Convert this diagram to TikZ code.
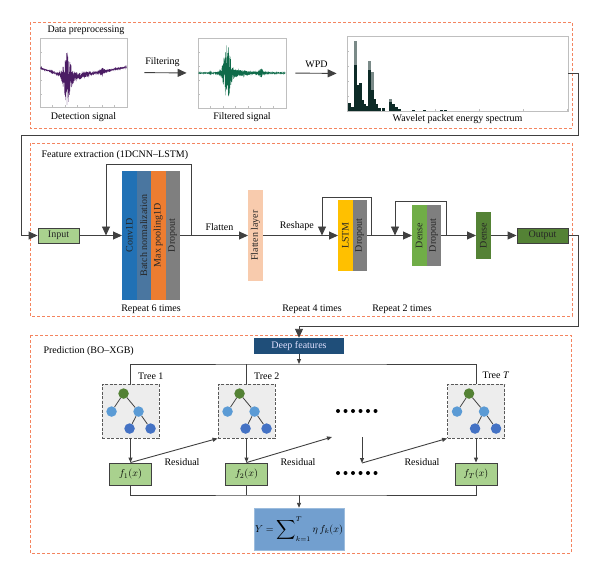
\documentclass[tikz,border=0pt]{standalone}
\usepackage{fontspec}
\setmainfont{Liberation Serif}
\usetikzlibrary{arrows.meta,positioning}
\definecolor{panelorange}{HTML}{F4845F}
\definecolor{linegray}{HTML}{404040}
\definecolor{inputgreen}{HTML}{A9D18E}
\definecolor{darkgreen}{HTML}{548235}
\definecolor{midgreen}{HTML}{70AD47}
\definecolor{convblue}{HTML}{2171B5}
\definecolor{bnblue}{HTML}{4A76A0}
\definecolor{poolorange}{HTML}{ED7D31}
\definecolor{dropgray}{HTML}{7F7F7F}
\definecolor{flatpeach}{HTML}{F8CBAD}
\definecolor{lstmyellow}{HTML}{FFC000}
\definecolor{deepblue}{HTML}{1F4E79}
\definecolor{sumblue}{HTML}{729FCF}
\definecolor{treegray}{HTML}{EDEDED}
\definecolor{leafblue}{HTML}{5B9BD5}
\definecolor{deepleaf}{HTML}{4472C4}
\definecolor{detpurple}{HTML}{4B1C64}
\definecolor{filgreen}{HTML}{0F6B4A}
\definecolor{bardark}{HTML}{0D2B27}
\definecolor{bargray}{HTML}{7A8A88}
\begin{document}
\begin{tikzpicture}[x=1pt,y=-1pt,font=\fontsize{10}{12}\selectfont,
    declare function={bump(\t,\c,\w)=exp(-(\t-\c)*(\t-\c)/(\w*\w));},
    panel/.style={draw=panelorange,dash pattern=on 3pt off 2pt,line width=0.9pt},
    link/.style={draw=linegray,line width=0.9pt},
    bigtip/.style={link,-{Triangle[length=9pt,width=8pt]}},
    smalltip/.style={link,-{Triangle[length=5pt,width=4pt]}},
    imgframe/.style={draw=black!25,line width=0.8pt,inner sep=0pt},
    strip/.style={inner sep=0pt,outer sep=0pt,minimum width=14.5pt,text=black!85},
    flatbox/.style={draw=linegray,line width=0.9pt,inner sep=0pt,minimum height=15pt,text=black!85},
    treebox/.style={draw=black!65,dash pattern=on 3pt off 1.5pt,line width=0.9pt,fill=treegray,
        minimum width=57pt,minimum height=54pt,inner sep=0pt},
    leaf/.style={circle,inner sep=0pt,minimum size=10.5pt},
    fnbox/.style={draw=linegray,line width=0.9pt,fill=inputgreen,minimum width=42pt,
        minimum height=22pt,inner sep=0pt}]
\useasboundingbox (0,0) rectangle (600,574);

% panels
\draw[panel] (30,22) rectangle (572,128);
\draw[panel] (30,143) rectangle (572,316);
\draw[panel] (30,335) rectangle (571,553);
\node[anchor=west] at (44,30) {Data preprocessing};
\node[anchor=west] at (38,155) {Feature extraction (1DCNN--LSTM)};
\node[anchor=west] at (40,351) {Prediction (BO--XGB)};

% data preprocessing
\node[imgframe,minimum width=87pt,minimum height=69pt] (detect) at (83.5,72.5) {};
\node[imgframe,minimum width=88pt,minimum height=70pt] (filtered) at (242,73) {};
\node[imgframe,minimum width=221pt,minimum height=75pt] (spectrum) at (457.5,73.5) {};
\node[below=2pt of detect] {Detection signal};
\node[below=1pt of filtered] {Filtered signal};
\node[below=0pt of spectrum] {Wavelet packet energy spectrum};
\foreach \i in {1,...,6} {
  \draw[black!25] (40+12.4*\i,107) -- ++(0,-2);
  \draw[black!25] (198+12.5*\i,108) -- ++(0,-2);
}
\foreach \i in {1,...,4} {
  \draw[black!25] (40,38+14*\i) -- ++(2,0);
  \draw[black!25] (198,38+14*\i) -- ++(2,0);
  \draw[black!25] (347,36+15*\i) -- ++(2,0);
}
\foreach \i in {1,...,5} {
  \draw[black!25] (347+44*\i,111) -- ++(0,-2);
}
\pgfmathsetseed{42}
\draw[domain=40.5:126.5, samples=1000, variable=\x, detpurple, line width=0.35pt]
  plot ({\x}, {(\x<67)*(68+(\x-40)/3)+(1-(\x<67))*(78-(\x-67)*0.183)
  +(19*bump(\x,67,3.5)+8*bump(\x,68,7)+3*bump(\x,82,9)+3.5*bump(\x,102,3)+1.5*bump(\x,52,1.2)+0.5)*rand});
\draw[domain=198.5:285.5, samples=1000, variable=\x, filgreen, line width=0.35pt]
  plot ({\x}, {73+(20*bump(\x,227,3.5)+8*bump(\x,228,7)+2.5*bump(\x,243,9)+4*bump(\x,261,3)+2*bump(\x,210,1.2)+0.4)*rand});
\foreach \bx/\by in {354/41, 368/61, 371/72, 389/99}
  \fill[bargray] (\bx,110.5) rectangle (\bx+3,\by);
\foreach \bx/\by in {348/103, 351/107, 354/65, 357/85, 359/83, 361/100, 363/104, 365/106,
    368/70, 371/90, 373/99, 375/104, 378/108, 382/108, 389/102, 392/104, 395/107,
    398/109, 412/110, 423/110, 440/109.5, 444/110}
  \fill[bardark] (\bx,110.5) rectangle (\bx+2.5,\by);
\draw[bigtip,shorten <=17pt,shorten >=11pt] (detect.east) -- (filtered.west)
  node[midway,above=2pt] {Filtering};
\draw[bigtip,shorten <=9pt,shorten >=10pt] (filtered.east) -- (spectrum.west)
  node[midway,above=2pt] {WPD};

% feature extraction
\node[flatbox,fill=inputgreen,minimum width=41pt] (input) at (58.5,235.5) {Input};
\node[strip,fill=convblue,minimum height=129pt] (conv) at (129.25,235.5) {\rotatebox{90}{Conv1D}};
\node[strip,fill=bnblue,minimum height=129pt,right=0pt of conv] (bn) {\rotatebox{90}{Batch normalization}};
\node[strip,fill=poolorange,minimum height=129pt,right=0pt of bn] (pool) {\rotatebox{90}{Max pooling1D}};
\node[strip,fill=dropgray,minimum height=129pt,right=0pt of pool] (drop1) {\rotatebox{90}{Dropout}};
\node[strip,fill=flatpeach,minimum width=15pt,minimum height=91pt] (flat) at (255.5,235.5) {\rotatebox{90}{Flatten layer}};
\node[strip,fill=lstmyellow,minimum height=71pt] (lstm) at (345.25,235.5) {\rotatebox{90}{LSTM}};
\node[strip,fill=dropgray,minimum height=71pt,right=0pt of lstm] (drop2) {\rotatebox{90}{Dropout}};
\node[strip,fill=midgreen,minimum height=61pt] (dense1) at (419.25,235.5) {\rotatebox{90}{Dense}};
\node[strip,fill=dropgray,minimum height=61pt,right=0pt of dense1] (drop3) {\rotatebox{90}{Dropout}};
\node[strip,fill=darkgreen,minimum width=15pt,minimum height=47pt] (dense2) at (483.5,235.5) {\rotatebox{90}{Dense}};
\node[flatbox,fill=darkgreen,minimum width=51pt] (output) at (542.5,235.5) {Output};
\node at (151,309) {Repeat 6 times};
\node at (312,309) {Repeat 4 times};
\node at (402,309) {Repeat 2 times};

\coordinate (rep1out) at (191,235.5);
\coordinate (rep1in) at (106,235.5);
\coordinate (rep2out) at (371,235.5);
\coordinate (rep2in) at (322,235.5);
\coordinate (rep3out) at (446,235.5);
\coordinate (rep3in) at (395,235.5);

\draw[bigtip] (spectrum.east) -| (578,135) -| (21,235.5) -- (input.west);
\draw[bigtip] (input.east) -- (conv.west);
\draw[link] (drop1.east) -- (rep1out);
\draw[bigtip] (rep1out) -- ++(0,-71.5) -| (rep1in);
\draw[bigtip] (rep1out) -- (flat.west) node[midway,above=1pt] {Flatten};
\draw[bigtip] (flat.east) -- (lstm.west) node[pos=0.45,above=1pt] {Reshape};
\draw[link] (drop2.east) -- (rep2out);
\draw[bigtip] (rep2out) -- ++(0,-38.5) -| (rep2in);
\draw[bigtip] (rep2out) -- (dense1.west);
\draw[link] (drop3.east) -- (rep3out);
\draw[bigtip] (rep3out) -- ++(0,-34.5) -| (rep3in);
\draw[bigtip] (rep3out) -- (dense2.west);
\draw[bigtip] (dense2.east) -- (output.west);

% prediction
\node[fill=deepblue,text=white!88!blue,minimum width=90pt,minimum height=16pt,inner sep=0pt] (deep) at (299,346) {Deep features};
\draw[bigtip] (output.east) -| (578,326) -| (deep.north);

\node[treebox] (tree1) at (130.5,411) {};
\node[treebox] (tree2) at (246.5,411) {};
\node[treebox] (treeT) at (476,411) {};
\node[above right=0pt and 4pt of tree1.north] {Tree 1};
\node[above right=0pt and 4pt of tree2.north] {Tree 2};
\node[above right=1pt and 3pt of treeT.north] {Tree \textit{T}};
\foreach \t in {tree1,tree2,treeT} {
  \begin{scope}[shift={(\t.north west)}]
    \node[leaf,fill=darkgreen] (\t-r) at (22,10) {};
    \node[leaf,fill=leafblue] (\t-a) at (10,28) {};
    \node[leaf,fill=leafblue] (\t-b) at (37,28) {};
    \node[leaf,fill=deepleaf] (\t-c) at (28,45) {};
    \node[leaf,fill=deepleaf] (\t-d) at (49,45) {};
  \end{scope}
  \draw[linegray,line width=0.8pt] (\t-r) -- (\t-a) (\t-r) -- (\t-b) (\t-b) -- (\t-c) (\t-b) -- (\t-d);
}

\node[fnbox] (f1) at (130.5,474) {$f_1(x)$};
\node[fnbox] (f2) at (246.5,474) {$f_2(x)$};
\node[fnbox] (fT) at (476,474) {$f_T(x)$};
\node[fill=sumblue,draw=sumblue!70!white,minimum width=88pt,minimum height=42pt,inner sep=1pt] (ypred) at (299,529)
  {$Y=\mathop{\vcenter{\hbox{\scalebox{1.35}{$\displaystyle\sum$}}}}\nolimits_{k=1}^{T}\eta\,f_k(x)$};

\coordinate (split) at (299,364);
\coordinate (join) at (299,495);
\coordinate (gapin) at (332,437);
\coordinate (gaptop) at (362,437);
\coordinate (gapout) at (362,463);

\draw[smalltip] (deep.south) -- (split);
\draw[link] (tree1.north) |- (split) -| (treeT.north);
\draw[link] (tree2.north) -- (tree2.north |- split);
\draw[smalltip] (tree1.south) -- (f1.north);
\draw[smalltip] (tree2.south) -- (f2.north);
\draw[smalltip] (treeT.south) -- (fT.north);
\draw[smalltip] (f1.north) -- (tree2.south west);
\draw[smalltip] (f2.north) -- (gapin);
\draw[smalltip] (gaptop) -- (gapout);
\draw[smalltip] (gapout) -- (treeT.south west);
\node at (182,462) {Residual};
\node at (298,462) {Residual};
\node at (422,462) {Residual};
\foreach \i in {0,...,5} {
  \fill (338+7.5*\i,411) circle (2);
  \fill (338+7.5*\i,473) circle (2);
}
\draw[link] (f1.south) |- (join) -| (fT.south);
\draw[link] (f2.south) -- (f2.south |- join);
\draw[smalltip] (join) -- (ypred.north);
\end{tikzpicture}
\end{document}
